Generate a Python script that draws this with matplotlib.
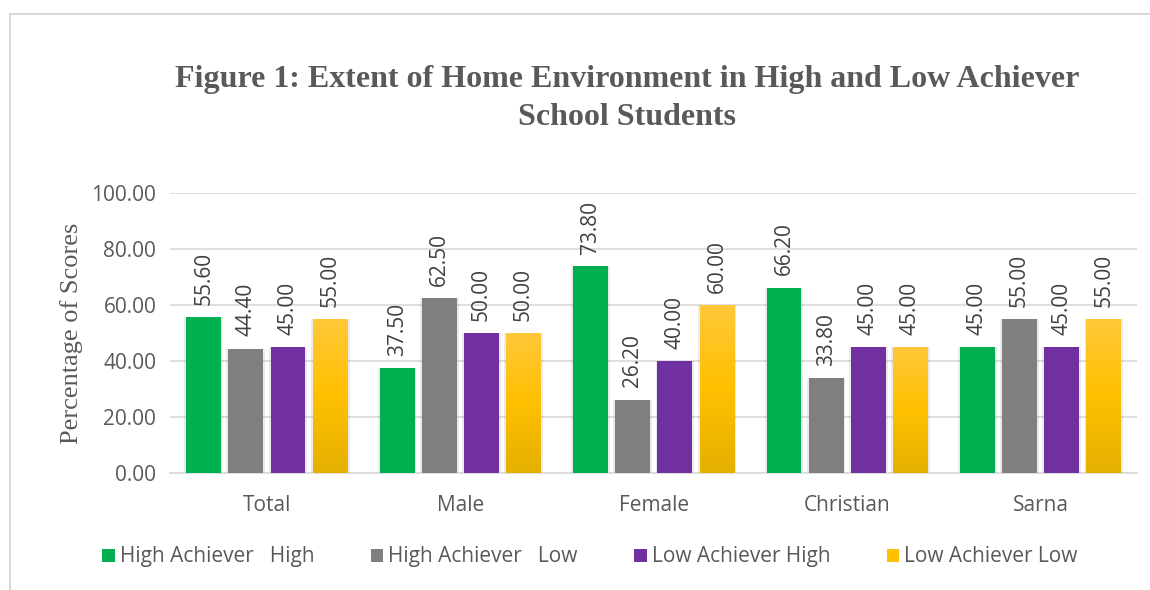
import numpy as np
import matplotlib
matplotlib.use('Agg')
import matplotlib.pyplot as plt
from matplotlib.lines import Line2D
from matplotlib.patches import Patch

categories = ['Total', 'Male', 'Female', 'Christian', 'Sarna']
series_names = ['High Achiever   High', 'High Achiever   Low',
                'Low Achiever High', 'Low Achiever Low']
high_high = [55.60, 37.50, 73.80, 66.20, 45.00]
high_low = [44.40, 62.50, 26.20, 33.80, 55.00]
low_high = [45.00, 50.00, 40.00, 45.00, 45.00]
low_low = [55.00, 50.00, 60.00, 45.00, 55.00]
y_ticks = [0, 20, 40, 60, 80, 100]

colors = ['#00b050', '#7f7f7f', '#7030a0', '#ffc000']
text_col = '#595959'
sans = 'Open Sans'

fig = plt.figure(figsize=(11.5, 5.9), dpi=100)
ax = fig.add_axes([0.148, 0.198, 0.841, 0.475])

# chart frame
fig.add_artist(Line2D([0.009, 0.009], [0, 0.976], color='#d9d9d9', lw=1.5, transform=fig.transFigure))
fig.add_artist(Line2D([0.009, 1.0], [0.976, 0.976], color='#d9d9d9', lw=1.5, transform=fig.transFigure))

x = np.arange(len(categories))
step = 0.218
width = 0.18
all_series = [high_high, high_low, low_high, low_low]

# gold gradient image (top lighter, bottom darker)
grad = np.linspace(0, 1, 256).reshape(-1, 1)
gold_cmap = matplotlib.colors.LinearSegmentedColormap.from_list(
    'gold', ['#e5b000', '#ffc000', '#ffc83a'])

for i, vals in enumerate(all_series):
    pos = x + (i - 1.5) * step
    # soft shadow
    ax.bar(pos, vals, width=width + 0.02, color='#000000', alpha=0.08, zorder=2, linewidth=0)
    bars = ax.bar(pos, vals, width=width, color=colors[i], zorder=3, linewidth=0)
    if i == 3:
        for b in bars:
            b.set_facecolor('none')
            im = ax.imshow(grad, cmap=gold_cmap, aspect='auto', origin='lower',
                           extent=[b.get_x(), b.get_x() + b.get_width(), 0, b.get_height()],
                           zorder=3)
            im.set_clip_path(b)
    for p, v in zip(pos, vals):
        ax.annotate(f'{v:.2f}', (p, v), xytext=(0, 9), textcoords='offset points',
                    rotation=90, ha='center', va='bottom', fontsize=15,
                    family=sans, color='#404040')

ax.set_xlim(-0.5, len(categories) - 0.5)
ax.set_ylim(0, 100)
ax.set_yticks(y_ticks)
ax.set_yticklabels([f'{t:.2f}' for t in y_ticks], fontsize=15, family=sans, color=text_col)
ax.set_xticks(x)
ax.set_xticklabels(categories, fontsize=15, family=sans, color=text_col)
ax.tick_params(length=0, pad=10)
ax.tick_params(axis='x', pad=16)
ax.grid(axis='y', color='#d9d9d9', lw=1.2, zorder=0)
ax.set_axisbelow(True)
for s in ['top', 'right', 'left']:
    ax.spines[s].set_visible(False)
ax.spines['bottom'].set_color('#d9d9d9')
ax.spines['bottom'].set_linewidth(1.2)

ax.set_ylabel('Percentage of Scores', fontsize=19, family='Liberation Serif',
              color=text_col, labelpad=6)

fig.text(0.545, 0.833, 'Figure 1: Extent of Home Environment in High and Low Achiever\nSchool Students',
         ha='center', va='center', fontsize=23, fontweight='bold',
         family='Liberation Serif', color=text_col, linespacing=1.38)

handles = [Patch(facecolor=c, edgecolor='none') for c in colors]
leg = fig.legend(handles, series_names, loc='center', bbox_to_anchor=(0.513, 0.056),
                 ncol=4, frameon=False, handlelength=0.6, handleheight=0.6,
                 handletextpad=0.25, columnspacing=2.7,
                 prop={'family': sans, 'size': 15})
for t in leg.get_texts():
    t.set_color(text_col)

fig.savefig('out.png', dpi=100)
